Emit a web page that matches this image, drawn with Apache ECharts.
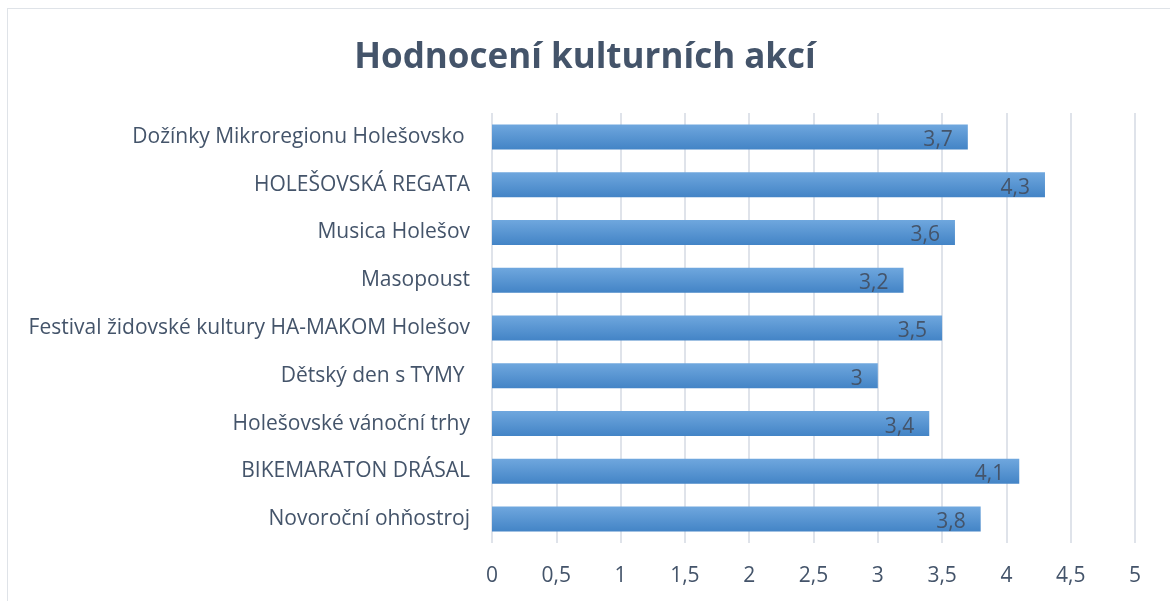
<!DOCTYPE html>
<html>
<head>
<meta charset="utf-8">
<script src="https://cdn.jsdelivr.net/npm/echarts@6/dist/echarts.min.js"></script>
<style>
  html, body { margin: 0; padding: 0; background: #fff; }
  #chart { width: 1170px; height: 601px; }
  #frame { position: absolute; left: 7px; top: 8px; width: 1170px; height: 600px; border: 1px solid #dfe3e8; box-sizing: border-box; pointer-events: none; }
</style>
</head>
<body>
<div id="chart"></div>
<div id="frame"></div>
<script>
  // data, bottom to top as drawn by the category axis
  var events = [
    'Novoroční ohňostroj',
    'BIKEMARATON DRÁSAL',
    'Holešovské vánoční trhy',
    'Dětský den s TYMY ',
    'Festival židovské kultury HA-MAKOM Holešov',
    'Masopoust',
    'Musica Holešov',
    'HOLEŠOVSKÁ REGATA',
    'Dožínky Mikroregionu Holešovsko '
  ];
  var ratings = [3.8, 4.1, 3.4, 3.0, 3.5, 3.2, 3.6, 4.3, 3.7];
  var chartTitle = 'Hodnocení kulturních akcí';

  var font = '"Open Sans", sans-serif';
  var textColor = '#44546a';

  function commaNum(v) {
    return String(v).replace('.', ',');
  }

  var chart = echarts.init(document.getElementById('chart'));
  chart.setOption({
    animation: false,
    title: {
      text: chartTitle,
      left: 'center',
      top: 36,
      textStyle: { fontFamily: font, fontSize: 35, fontWeight: 'bold', color: textColor }
    },
    grid: {
      left: 492,
      right: 35,
      top: 113,
      bottom: 58
    },
    xAxis: {
      type: 'value',
      min: 0,
      max: 5,
      interval: 0.5,
      axisLine: { show: false },
      axisTick: { show: false },
      splitLine: { lineStyle: { color: '#dfe3ea', width: 2 } },
      axisLabel: {
        margin: 23,
        fontFamily: font,
        fontSize: 21,
        color: textColor,
        formatter: commaNum
      }
    },
    yAxis: {
      type: 'category',
      data: events,
      axisLine: { show: false },
      axisTick: { show: false },
      axisLabel: {
        margin: 22,
        fontFamily: font,
        fontSize: 21,
        color: textColor
      }
    },
    series: [{
      type: 'bar',
      data: ratings,
      barWidth: 25,
      itemStyle: {
        color: new echarts.graphic.LinearGradient(0, 0, 0, 1, [
          { offset: 0, color: '#6fa7de' },
          { offset: 1, color: '#4384c6' }
        ])
      },
      label: {
        show: true,
        position: 'insideRight',
        offset: [0, 3],
        distance: 15,
        fontFamily: font,
        fontSize: 21,
        color: textColor,
        formatter: function (p) { return commaNum(p.value); }
      }
    }]
  });
</script>
</body>
</html>
